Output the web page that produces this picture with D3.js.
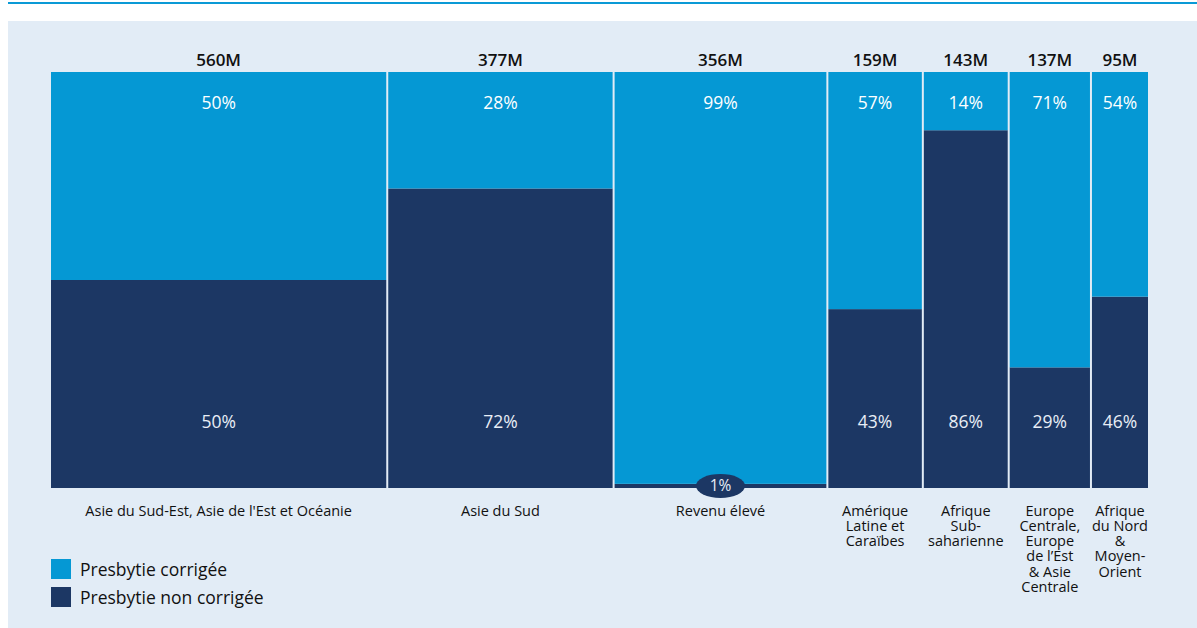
<!DOCTYPE html>
<html>
<head>
<meta charset="utf-8">
<script src="https://cdn.jsdelivr.net/npm/d3@7"></script>
<style>
  html, body { margin: 0; padding: 0; background: #ffffff; }
  svg { display: block; font-family: "Open Sans", Lato, sans-serif; }
</style>
</head>
<body>
<svg id="chart" width="1197" height="628"></svg>
<script>
// Regions, total people with presbyopia (millions) and share corrected (%)
const regions = [
  ["Asie du Sud-Est, Asie de l'Est et Océanie"],
  ["Asie du Sud"],
  ["Revenu élevé"],
  ["Amérique", "Latine et", "Caraïbes"],
  ["Afrique", "Sub-", "saharienne"],
  ["Europe", "Centrale,", "Europe", "de l’Est", "& Asie", "Centrale"],
  ["Afrique", "du Nord", "&", "Moyen-", "Orient"]
];
const totals = [560, 377, 356, 159, 143, 137, 95];
const corrected = [50, 28, 99, 57, 14, 71, 54];
const uncorrected = [50, 72, 1, 43, 86, 29, 46];
const legendLabels = ["Presbytie corrigée", "Presbytie non corrigée"];

const colCorrected = "#0598d4";
const colUncorrected = "#1c3764";

(function draw() {
  const svg = d3.select("#chart");

  // Top rule and background panel
  svg.append("rect").attr("x", 8).attr("y", 2).attr("width", 1189).attr("height", 2).attr("fill", "#0a9ad6");
  svg.append("rect").attr("x", 8).attr("y", 21).attr("width", 1189).attr("height", 607).attr("fill", "#e2ecf6");

  const plotL = 51, plotR = 1148, plotT = 72, plotB = 488;
  const cum = [0];
  totals.forEach(t => cum.push(cum[cum.length - 1] + t));
  const x = d3.scaleLinear().domain([0, cum[cum.length - 1]]).range([plotL, plotR]);
  const y = d3.scaleLinear().domain([0, 100]).range([plotB, plotT]);
  const gap = 2;

  const cols = totals.map((t, i) => ({
    i, total: t, c: corrected[i], u: uncorrected[i], label: regions[i],
    x0: x(cum[i]) + (i > 0 ? gap / 2 : 0),
    x1: x(cum[i + 1]) - (i < totals.length - 1 ? gap / 2 : 0)
  }));

  const g = svg.append("g");

  // Uncorrected (bottom) segment
  g.selectAll("rect.unc").data(cols).join("rect")
    .attr("class", "unc")
    .attr("x", d => d.x0).attr("width", d => d.x1 - d.x0)
    .attr("y", d => y(d.u)).attr("height", d => y(0) - y(d.u))
    .attr("fill", colUncorrected);

  // Corrected (top) segment
  g.selectAll("rect.cor").data(cols).join("rect")
    .attr("class", "cor")
    .attr("x", d => d.x0).attr("width", d => d.x1 - d.x0)
    .attr("y", d => y(100)).attr("height", d => y(d.u) - y(100))
    .attr("fill", colCorrected);

  // Totals above columns
  g.selectAll("text.tot").data(cols).join("text")
    .attr("class", "tot")
    .attr("x", d => (d.x0 + d.x1) / 2).attr("y", 65.5)
    .attr("text-anchor", "middle")
    .attr("font-size", 17).attr("font-weight", 600).attr("fill", "#111")
    .text(d => d.total + "M");

  // Percent labels for corrected share
  g.selectAll("text.pc").data(cols).join("text")
    .attr("class", "pc")
    .attr("x", d => (d.x0 + d.x1) / 2).attr("y", 109)
    .attr("text-anchor", "middle")
    .attr("font-size", 17.5).attr("fill", "#ffffff")
    .text(d => d.c + "%");

  // Percent labels for uncorrected share
  const big = cols.filter(d => d.u >= 10);
  const small = cols.filter(d => d.u < 10);
  g.selectAll("text.pu").data(big).join("text")
    .attr("class", "pu")
    .attr("x", d => (d.x0 + d.x1) / 2).attr("y", 428)
    .attr("text-anchor", "middle")
    .attr("font-size", 17.5).attr("fill", "#e8eef6")
    .text(d => d.u + "%");

  // Badge for very small uncorrected share
  small.forEach(d => {
    const cx = (d.x0 + d.x1) / 2;
    const cy = y(d.u / 2);
    g.append("ellipse").attr("cx", cx).attr("cy", cy).attr("rx", 24.5).attr("ry", 12).attr("fill", colUncorrected);
    g.append("text").attr("x", cx).attr("y", cy + 5.5).attr("text-anchor", "middle")
      .attr("font-size", 15.5).attr("fill", "#e8eef6").text(d.u + "%");
  });

  // Region labels below the columns
  cols.forEach(d => {
    const t = g.append("text")
      .attr("x", (d.x0 + d.x1) / 2).attr("y", 515.5)
      .attr("text-anchor", "middle")
      .attr("font-size", 14.5).attr("fill", "#111");
    d.label.forEach((line, k) => {
      t.append("tspan").attr("x", (d.x0 + d.x1) / 2).attr("dy", k === 0 ? 0 : 15.3).text(line);
    });
  });

  // Legend
  const legend = svg.append("g");
  [colCorrected, colUncorrected].forEach((c, k) => {
    legend.append("rect").attr("x", 51).attr("y", 559 + k * 28).attr("width", 20).attr("height", 20).attr("fill", c);
    legend.append("text").attr("x", 80).attr("y", 575.5 + k * 28)
      .attr("font-size", 17.5).attr("fill", "#111").text(legendLabels[k]);
  });
})();
</script>
</body>
</html>
